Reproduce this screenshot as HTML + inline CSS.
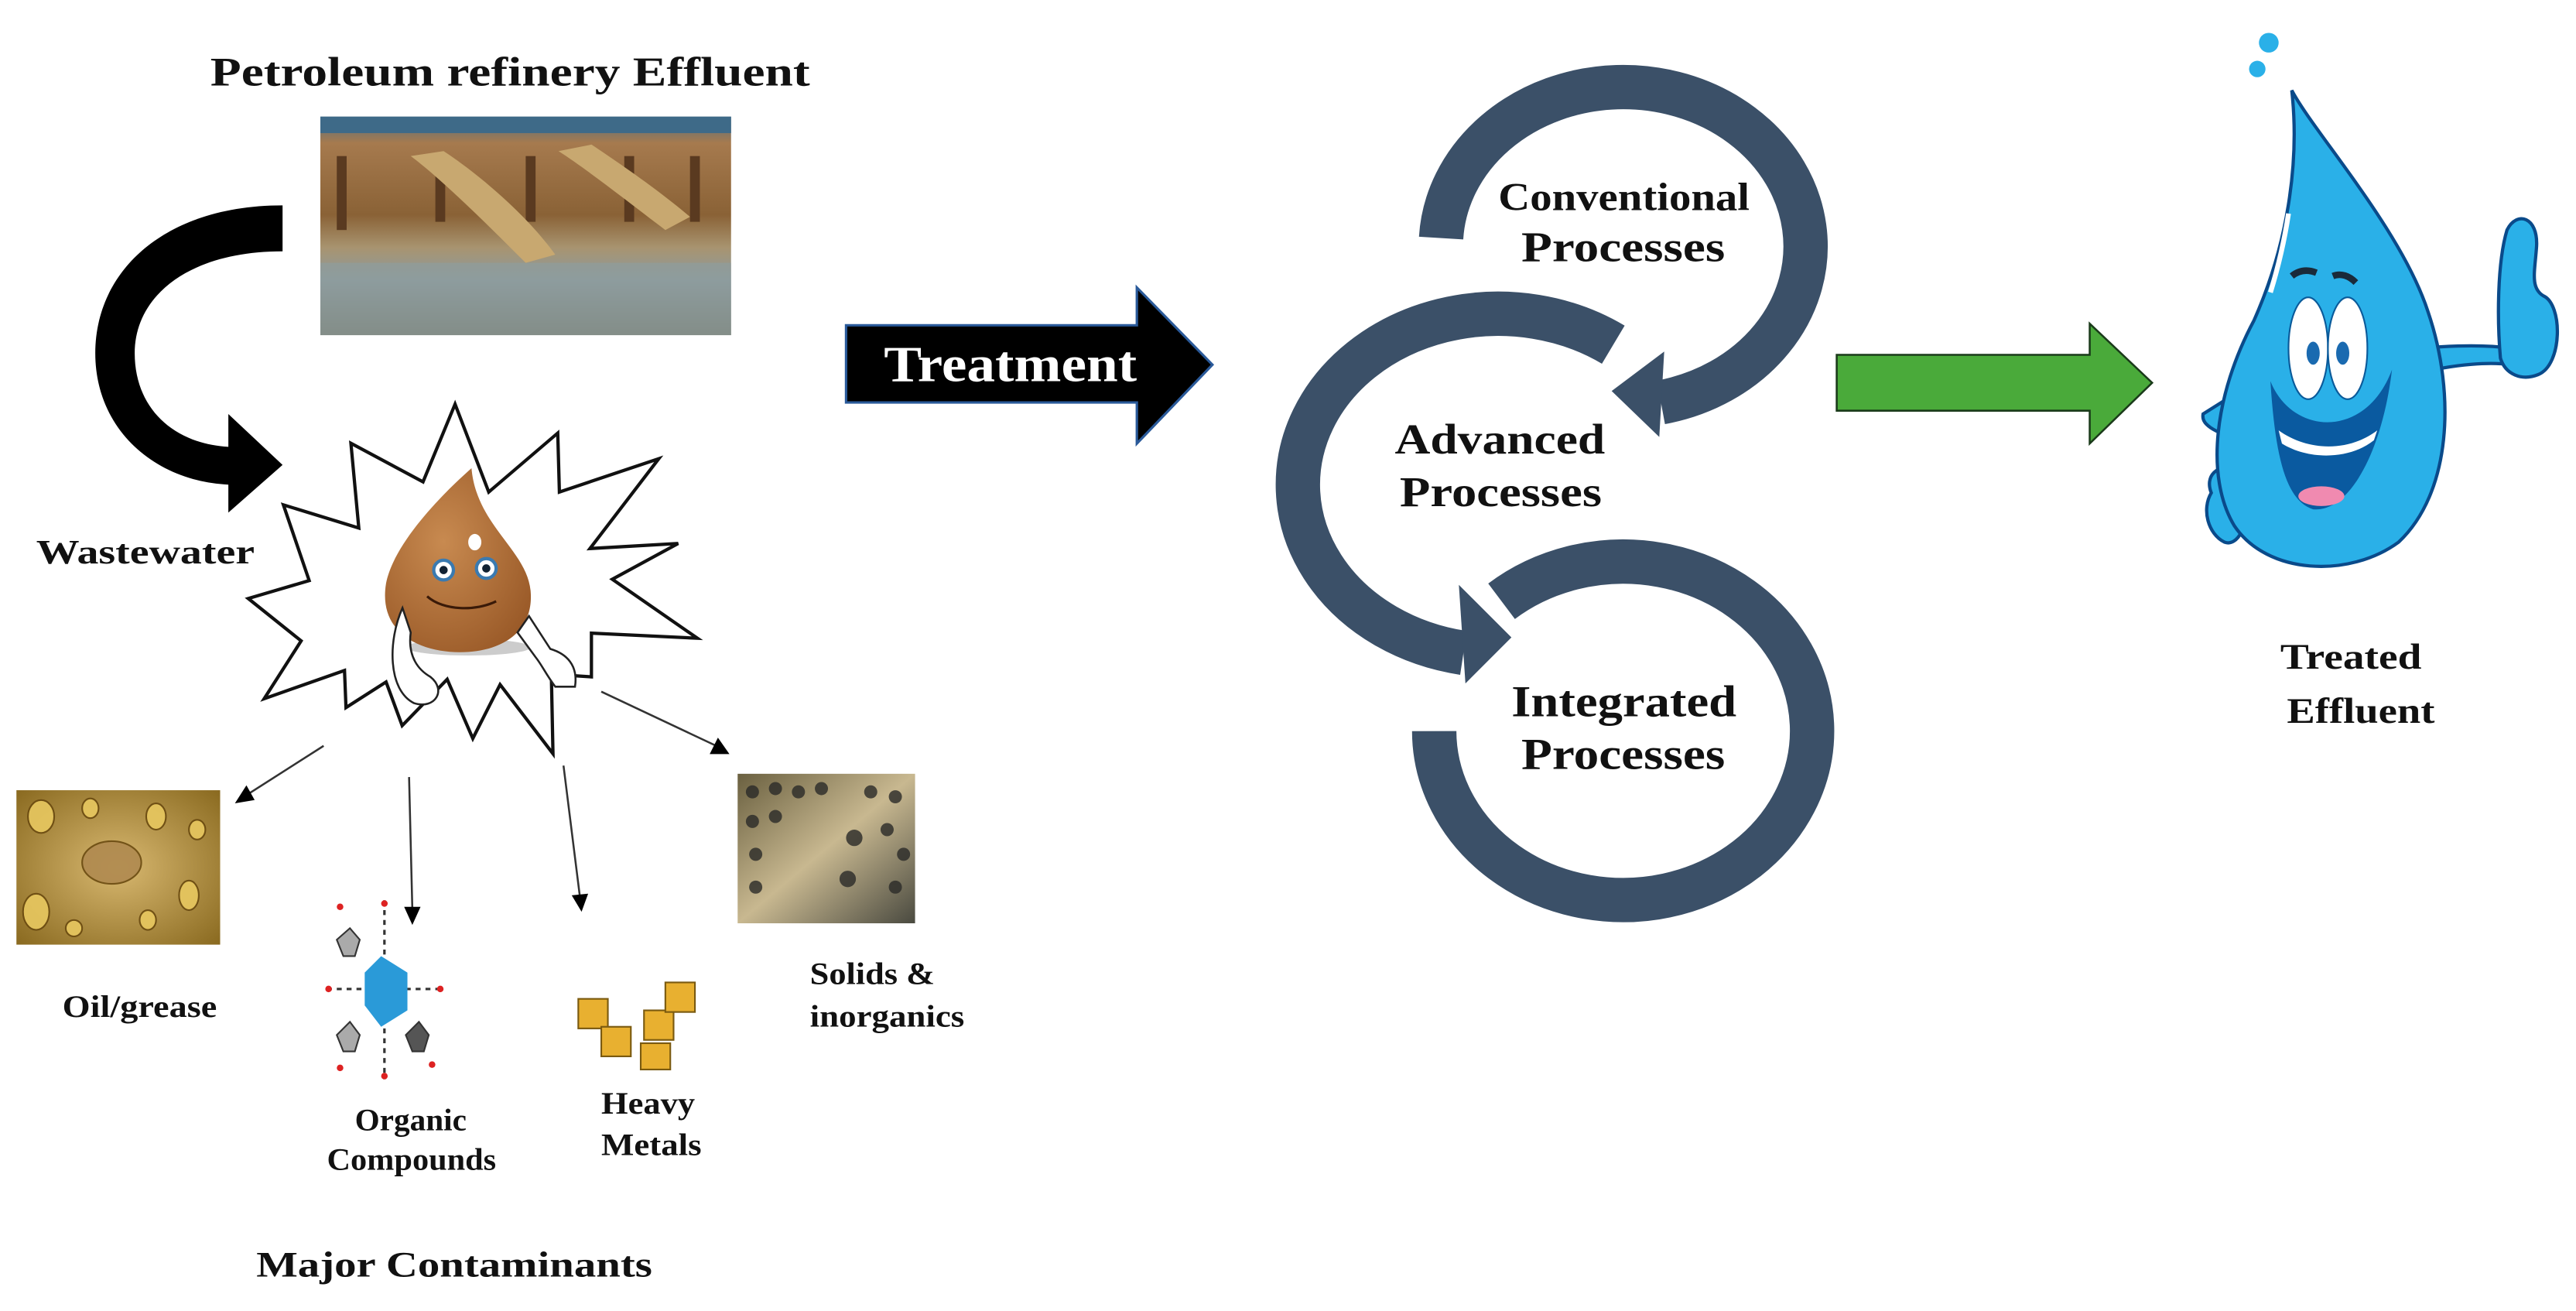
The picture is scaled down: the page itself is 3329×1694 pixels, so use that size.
<!DOCTYPE html>
<html><head><meta charset="utf-8"><style>
html,body{margin:0;padding:0;background:#fff;}
svg{display:block;}
text{font-family:"Liberation Serif",serif;font-weight:bold;fill:#111;}
</style></head><body>
<svg width="3329" height="1694" viewBox="0 0 1568 798" preserveAspectRatio="none" xmlns="http://www.w3.org/2000/svg">
<defs>
<linearGradient id="ph" x1="0" y1="0" x2="0" y2="1">
<stop offset="0" stop-color="#4d6f86"/><stop offset="0.12" stop-color="#a67a4e"/><stop offset="0.45" stop-color="#8a6236"/><stop offset="0.6" stop-color="#a89470"/><stop offset="0.75" stop-color="#8b9aa0"/><stop offset="1" stop-color="#6a6a58"/>
</linearGradient>
<radialGradient id="oil" cx="0.5" cy="0.5" r="0.7"><stop offset="0" stop-color="#d8b870"/><stop offset="1" stop-color="#8a6a20"/></radialGradient>
<radialGradient id="br" cx="0.4" cy="0.4" r="0.7"><stop offset="0" stop-color="#c88a50"/><stop offset="1" stop-color="#9a5a28"/></radialGradient>
<linearGradient id="sol" x1="0" y1="0" x2="1" y2="1"><stop offset="0" stop-color="#6a6040"/><stop offset="0.5" stop-color="#c8b890"/><stop offset="1" stop-color="#4a4a40"/></linearGradient>
</defs>

<text x="128" y="52" font-size="25" textLength="365" lengthAdjust="spacingAndGlyphs">Petroleum refinery Effluent</text>
<rect x="195" y="71" width="250" height="133" fill="url(#ph)"/>
<rect x="195" y="71" width="250" height="10" fill="#3e6a88"/>
<g fill="#5a3a20"><rect x="205" y="95" width="6" height="45"/><rect x="265" y="95" width="6" height="40"/><rect x="320" y="95" width="6" height="40"/><rect x="380" y="95" width="6" height="40"/><rect x="420" y="95" width="6" height="40"/></g>
<path d="M250,95 C270,110 300,140 320,160 L338,155 C320,130 290,105 270,92 Z" fill="#c8a870"/>
<path d="M340,92 C360,105 385,125 405,140 L420,132 C400,115 375,98 360,88 Z" fill="#c8a870"/>
<rect x="195" y="160" width="250" height="44" fill="#8e9c9c" opacity="0.7"/>

<path d="M172,125 C100,125 58,165 58,215 C58,262 95,293 139,295 L139,312 L172,283 L139,252 L139,272 C105,270 82,248 82,215 C82,180 115,153 172,153 Z" fill="#000"/>
<text x="22" y="343" font-size="21" textLength="133" lengthAdjust="spacingAndGlyphs">Wastewater</text>

<polygon points="277,246 297.5,299.5 339.5,263.6 340.5,299.5 401,279.2 359.1,333.9 412.8,330.8 372.7,352.6 424.5,388.5 360,385.4 360,412 335.6,410.4 336.6,458.8 304.4,416.7 287.8,449.5 272.2,413.5 244.8,441.7 235,415.1 210.6,430.7 209.7,408.1 160.8,425.3 183.3,390.1 151.1,364.3 188.2,353.4 172.5,307.3 218.4,321.4 213.6,269.8 257.5,293.3" fill="#fff" stroke="#111" stroke-width="2"/>
<ellipse cx="285" cy="394" rx="38" ry="5" fill="#ccc"/>
<path d="M287,285 C270,300 240,330 235,355 C230,385 255,397 280,397 C305,397 325,385 323,360 C321,335 290,320 287,285 Z" fill="url(#br)"/>
<ellipse cx="289" cy="330" rx="4" ry="5" fill="#fff"/>
<circle cx="270" cy="347" r="6" fill="#fff" stroke="#3a7ab0" stroke-width="2"/><circle cx="270" cy="347" r="2.5" fill="#123"/>
<circle cx="296" cy="346" r="6" fill="#fff" stroke="#3a7ab0" stroke-width="2"/><circle cx="296" cy="346" r="2.5" fill="#123"/>
<path d="M260,363 C270,372 290,372 302,366" stroke="#3a1a08" stroke-width="1.5" fill="none"/>
<path d="M245,370 C236,390 236,420 252,428 C265,432 272,420 262,412 C255,408 248,400 250,385 Z" fill="#fff" stroke="#222" stroke-width="1.2"/>
<path d="M322,375 L335,395 C345,398 352,405 350,418 L338,418 C332,410 330,405 326,400 L315,385 Z" fill="#fff" stroke="#222" stroke-width="1.2"/>

<g stroke="#333" stroke-width="1.2" fill="#000">
<line x1="197" y1="454" x2="150" y2="484"/><polygon points="143,489 150,478 155,487" stroke="none"/>
<line x1="249" y1="473" x2="251" y2="554"/><polygon points="251,563 246,552 256,552" stroke="none"/>
<line x1="343" y1="466" x2="353" y2="546"/><polygon points="354,555 348,545 358,544" stroke="none"/>
<line x1="366" y1="421" x2="436" y2="454"/><polygon points="444,459 432,459 437,449" stroke="none"/>
</g>

<rect x="10" y="481" width="124" height="94" fill="url(#oil)"/>
<g fill="#e8c860" stroke="#6a4a10" stroke-width="1" opacity="0.9">
<ellipse cx="25" cy="497" rx="8" ry="10"/><ellipse cx="55" cy="492" rx="5" ry="6"/><ellipse cx="95" cy="497" rx="6" ry="8"/><ellipse cx="120" cy="505" rx="5" ry="6"/>
<ellipse cx="68" cy="525" rx="18" ry="13" fill="#b08a50"/><ellipse cx="22" cy="555" rx="8" ry="11"/><ellipse cx="115" cy="545" rx="6" ry="9"/><ellipse cx="90" cy="560" rx="5" ry="6"/><ellipse cx="45" cy="565" rx="5" ry="5"/>
</g>
<text x="38" y="619" font-size="19" textLength="94" lengthAdjust="spacingAndGlyphs">Oil/grease</text>

<g>
<line x1="234" y1="548" x2="234" y2="657" stroke="#333" stroke-width="1.5" stroke-dasharray="3,3"/>
<line x1="199" y1="602" x2="269" y2="602" stroke="#333" stroke-width="1.5" stroke-dasharray="3,3"/>
<polygon points="232,582 248,592 248,615 232,625 222,612 222,592" fill="#2a9ad8"/>
<polygon points="213,565 219,572 216,582 209,582 205,572" fill="#aaa" stroke="#333"/>
<polygon points="213,622 219,630 216,640 209,640 205,630" fill="#aaa" stroke="#333"/>
<polygon points="255,622 261,630 258,640 251,640 247,630" fill="#555" stroke="#333"/>
<g fill="#d22"><circle cx="207" cy="552" r="2"/><circle cx="234" cy="550" r="2"/><circle cx="200" cy="602" r="2"/><circle cx="268" cy="602" r="2"/><circle cx="207" cy="650" r="2"/><circle cx="234" cy="655" r="2"/><circle cx="263" cy="648" r="2"/></g>
</g>
<text x="216" y="688" font-size="19" textLength="68" lengthAdjust="spacingAndGlyphs">Organic</text>
<text x="199" y="712" font-size="19" textLength="103" lengthAdjust="spacingAndGlyphs">Compounds</text>

<g fill="#e8b030" stroke="#7a5a10" stroke-width="1">
<rect x="352" y="608" width="18" height="18"/><rect x="366" y="625" width="18" height="18"/><rect x="392" y="615" width="18" height="18"/><rect x="405" y="598" width="18" height="18"/><rect x="390" y="635" width="18" height="16"/>
</g>
<text x="366" y="678" font-size="19" textLength="57" lengthAdjust="spacingAndGlyphs">Heavy</text>
<text x="366" y="703" font-size="19" textLength="61" lengthAdjust="spacingAndGlyphs">Metals</text>

<rect x="449" y="471" width="108" height="91" fill="url(#sol)"/>
<g fill="#2a2a28" opacity="0.8">
<circle cx="458" cy="482" r="4"/><circle cx="472" cy="480" r="4"/><circle cx="486" cy="482" r="4"/><circle cx="500" cy="480" r="4"/><circle cx="530" cy="482" r="4"/><circle cx="545" cy="485" r="4"/>
<circle cx="458" cy="500" r="4"/><circle cx="472" cy="497" r="4"/><circle cx="540" cy="505" r="4"/><circle cx="550" cy="520" r="4"/><circle cx="460" cy="520" r="4"/><circle cx="545" cy="540" r="4"/><circle cx="460" cy="540" r="4"/><circle cx="520" cy="510" r="5"/><circle cx="516" cy="535" r="5"/>
</g>
<text x="493" y="599" font-size="19" textLength="76" lengthAdjust="spacingAndGlyphs">Solids &amp;</text>
<text x="493" y="625" font-size="19" textLength="94" lengthAdjust="spacingAndGlyphs">inorganics</text>

<text x="156" y="777" font-size="22" textLength="241" lengthAdjust="spacingAndGlyphs">Major Contaminants</text>

<polygon points="515,198 692,198 692,175 738,222 692,270 692,245 515,245" fill="#000" stroke="#2a5a9a" stroke-width="1.5"/>
<text x="538" y="232" font-size="31" textLength="154" lengthAdjust="spacingAndGlyphs" style="fill:#fff">Treatment</text>

<g fill="none" stroke="#3b5068" stroke-width="27">
<path d="M877.2,144.9 A111,97 0 1 1 1011,244.9"/>
<path d="M982,209.8 A122,104 0 1 0 890.8,397.4"/>
<path d="M873,445 A115,103 0 1 0 914,366"/>
</g>
<g fill="#3b5068">
<polygon points="1013,214 1010,266 981,238"/>
<polygon points="888,356 892,416 920,388"/>
</g>
<text x="912" y="128" font-size="24" textLength="153" lengthAdjust="spacingAndGlyphs">Conventional</text>
<text x="926" y="159" font-size="26" textLength="124" lengthAdjust="spacingAndGlyphs">Processes</text>
<text x="849" y="276" font-size="26" textLength="128" lengthAdjust="spacingAndGlyphs">Advanced</text>
<text x="852" y="308" font-size="26" textLength="123" lengthAdjust="spacingAndGlyphs">Processes</text>
<text x="920" y="436" font-size="27" textLength="137" lengthAdjust="spacingAndGlyphs">Integrated</text>
<text x="926" y="468" font-size="27" textLength="124" lengthAdjust="spacingAndGlyphs">Processes</text>

<polygon points="1118,216 1272,216 1272,197 1310,233 1272,270 1272,250 1118,250" fill="#4aaa3a" stroke="#1a3a1a" stroke-width="1.2"/>

<g stroke="#0a4a8a" stroke-width="2">
<path d="M1475,212 C1495,210 1515,210 1528,212 L1528,222 C1515,220 1495,222 1477,226 Z" fill="#2ab0e8"/>
<path d="M1522,218 C1520,195 1520,160 1526,140 C1532,128 1545,132 1544,150 C1543,165 1540,175 1548,180 C1560,185 1560,222 1545,228 C1535,232 1525,228 1522,218 Z" fill="#2ab0e8"/>
<path d="M1368,235 L1341,252 C1340,258 1345,262 1368,270 Z" fill="#2ab0e8"/>
<path d="M1362,285 C1349,282 1342,290 1346,300 C1340,310 1344,325 1354,330 C1362,333 1369,320 1369,300 Z" fill="#2ab0e8"/>
<path d="M1395,55 C1408,80 1462,140 1478,190 C1495,240 1492,300 1460,330 C1430,352 1380,350 1360,320 C1342,290 1348,240 1372,195 C1392,150 1400,100 1395,55 Z" fill="#2ab0e8"/>
</g>
<circle cx="1381" cy="26" r="6" fill="#2ab0e8"/><circle cx="1374" cy="42" r="5" fill="#2ab0e8"/>
<path d="M1393,130 C1390,150 1386,165 1382,178" stroke="#fff" stroke-width="3" fill="none"/>
<ellipse cx="1405" cy="212" rx="12" ry="31" fill="#fff" stroke="#0a5a9a" stroke-width="1"/>
<ellipse cx="1429" cy="212" rx="12" ry="31" fill="#fff" stroke="#0a5a9a" stroke-width="1"/>
<ellipse cx="1408" cy="215" rx="4" ry="7" fill="#1a6ab0"/><ellipse cx="1426" cy="215" rx="4" ry="7" fill="#1a6ab0"/>
<path d="M1395,168 C1400,164 1405,164 1410,166 M1420,168 C1425,166 1430,168 1434,172" stroke="#1a2a3a" stroke-width="4" fill="none"/>
<path d="M1382,232 C1395,265 1440,268 1456,225 C1450,275 1430,312 1408,310 C1392,305 1385,280 1382,232 Z" fill="#0a5aa0"/>
<path d="M1387,262 C1405,275 1430,275 1447,262 L1445,268 C1430,280 1405,280 1389,270 Z" fill="#fff"/>
<ellipse cx="1413" cy="302" rx="14" ry="6" fill="#f08ab0"/>

<text x="1388" y="407" font-size="22" textLength="86" lengthAdjust="spacingAndGlyphs">Treated</text>
<text x="1392" y="440" font-size="22" textLength="90" lengthAdjust="spacingAndGlyphs">Effluent</text>
</svg>
</body></html>
